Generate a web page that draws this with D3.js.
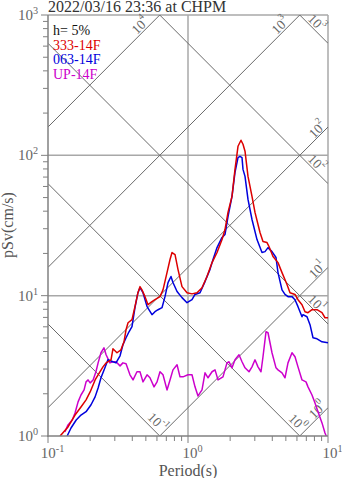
<!DOCTYPE html>
<html><head><meta charset="utf-8">
<script src="https://cdn.jsdelivr.net/npm/d3@7"></script>
<style>body{margin:0;background:#fff}svg{display:block}</style>
</head><body><svg id="c" width="342" height="478"></svg>
<script>
const titleText = "2022/03/16 23:36 at CHPM";
const dampingText = "h= 5%";
const seriesNames = ["333-14F", "063-14F", "UP-14F"];
const seriesColors = ["#dd0000", "#0000dd", "#cc00cc"];
const xLabel = "Period(s)";
const yLabel = "pSv(cm/s)";
const xTickExps = [-1, 0, 1];
const yTickExps = [0, 1, 2, 3];
const saLevels = [1, 10, 100, 1000, 10000];   // gal
const sdLevels = [0.1, 1, 10, 100, 1000];      // cm

const ewT = [0.122,0.139,0.156,0.172,0.187,0.200,0.217,0.228,0.247,0.260,0.282,0.291,0.311,0.332,0.349,0.361,0.373,0.398,0.418,0.439,0.454,0.469,0.493,0.518,0.553,0.581,0.631,0.663,0.708,0.744,0.769,0.808,0.848,0.906,0.984,1.068,1.160,1.259,1.367,1.485,1.612,1.750,1.838,1.931,2.062,2.166,2.276,2.391,2.471,2.554,2.683,2.865,3.010,3.268,3.433,3.667,3.789,4.047,4.394,4.693,5.095,5.353,5.812,6.105,6.521,6.851,7.197,7.686,8.345,9.060,9.518,10.0];
const ewV = [1.00,1.16,1.41,1.61,1.81,2.06,2.51,2.73,3.11,3.32,3.49,4.18,3.92,4.11,4.69,5.72,6.41,6.74,8.35,10.5,11.6,11.0,9.84,8.62,9.06,9.36,9.84,11.0,14.6,18.1,20.3,19.6,15.4,11.6,10.5,10.3,10.5,11.4,13.7,17.2,20.3,25.1,29.6,39.2,51.0,79.4,116,128,120,107,70.8,51.0,39.2,28.2,24.3,23.9,22.4,19.0,17.2,14.6,12.0,10.5,10.2,9.36,8.62,7.69,7.56,7.94,7.94,7.56,6.96,6.96];

const nsT = [0.137,0.146,0.159,0.172,0.187,0.203,0.217,0.228,0.239,0.255,0.268,0.291,0.306,0.327,0.343,0.361,0.379,0.398,0.418,0.439,0.454,0.477,0.510,0.553,0.581,0.611,0.652,0.685,0.720,0.756,0.781,0.835,0.906,0.984,1.068,1.122,1.219,1.323,1.436,1.509,1.612,1.750,1.838,1.931,2.062,2.166,2.276,2.352,2.431,2.471,2.554,2.683,2.865,3.111,3.377,3.548,3.728,3.981,4.252,4.394,4.693,4.930,5.179,5.532,5.812,6.105,6.521,6.629,7.079,7.438,7.814,8.345,9.060,10.0];
const nsV = [1.00,1.14,1.30,1.41,1.49,1.67,1.90,2.20,2.60,3.06,3.49,3.38,3.32,3.73,4.47,5.01,5.53,6.01,8.21,10.5,11.4,10.5,8.35,7.32,7.69,7.94,8.21,9.84,12.4,13.7,12.4,10.7,9.68,8.91,9.36,10.2,10.5,12.6,15.4,18.1,22.0,26.0,27.3,36.6,51.0,75.6,96.4,98.4,96.4,79.4,70.8,48.5,34.9,25.1,20.3,20.6,22.0,20.6,18.7,14.6,11.0,10.2,9.84,9.84,9.36,8.35,7.08,7.32,7.08,6.21,5.01,4.93,4.69,4.62];

const udT = [0.132,0.139,0.149,0.156,0.164,0.172,0.181,0.187,0.193,0.200,0.210,0.220,0.228,0.239,0.251,0.260,0.277,0.291,0.306,0.327,0.343,0.361,0.385,0.405,0.432,0.454,0.477,0.510,0.535,0.572,0.601,0.631,0.663,0.708,0.744,0.781,0.835,0.877,0.921,1.000,1.068,1.122,1.179,1.259,1.323,1.390,1.485,1.560,1.638,1.778,1.899,1.963,2.062,2.166,2.314,2.431,2.554,2.728,2.865,3.010,3.162,3.322,3.433,3.607,3.728,3.981,4.252,4.394,4.693,4.930,5.179,5.532,5.812,6.105,6.521,6.964,7.197,7.686,8.075,8.483,9.060,9.518,9.837];
const udV = [1.07,1.20,1.30,1.46,1.75,1.96,2.13,2.43,2.51,2.39,2.51,2.87,3.32,3.92,4.25,3.79,3.32,3.38,3.38,3.16,3.32,3.27,2.73,2.51,2.87,2.87,2.43,2.73,2.60,2.24,2.43,2.87,2.73,2.13,2.51,2.96,3.22,2.64,2.64,2.73,2.73,2.24,1.93,2.13,2.82,2.60,2.87,2.96,2.51,2.64,3.32,3.38,3.06,3.49,3.79,3.38,3.06,2.87,3.11,3.49,3.11,2.87,3.67,5.53,5.44,3.92,3.06,2.96,2.82,2.60,3.32,3.92,3.67,3.11,2.51,2.43,2.24,1.96,1.72,1.49,1.24,1.05,0.97];

const seriesT = [ewT, nsT, udT];
const seriesV = [ewV, nsV, udV];

const L = 48, R = 328, T = 15, B = 436;
const svg = d3.select("#c");
const x = d3.scaleLog().domain([0.1, 10]).range([L, R]);
const y = d3.scaleLog().domain([1, 1000]).range([B, T]);
const serif = "'Liberation Serif','Times New Roman',serif";

svg.append("defs").append("clipPath").attr("id", "clip")
  .append("rect").attr("x", L).attr("y", T).attr("width", R - L).attr("height", B - T);

// grid lines at decades
const grid = svg.append("g").attr("stroke", "#a8a8a8").attr("stroke-width", 1.5);
[1].forEach(v => grid.append("line").attr("x1", x(v)).attr("x2", x(v)).attr("y1", T).attr("y2", B));
[10, 100].forEach(v => grid.append("line").attr("x1", L).attr("x2", R).attr("y1", y(v)).attr("y2", y(v)));
grid.append("line").attr("x1", L).attr("x2", R).attr("y1", T).attr("y2", T);
grid.append("line").attr("x1", R).attr("x2", R).attr("y1", T).attr("y2", B);

// tripartite diagonal lines
const diag = svg.append("g").attr("clip-path", "url(#clip)").attr("stroke", "#6a6a6a").attr("stroke-width", 1).attr("fill", "none");
const lineGen = d3.line().x(d => x(d[0])).y(d => y(d[1]));
const tEnds = [0.1, 10];
saLevels.forEach(sa => diag.append("path").attr("d", lineGen(tEnds.map(t => [t, sa * t / (2 * Math.PI)]))));
sdLevels.forEach(sd => diag.append("path").attr("d", lineGen(tEnds.map(t => [t, 2 * Math.PI * sd / t]))));

function expLabel(g, px, py, exp, size, anchor, rot) {
  const t = g.append("text").attr("x", px).attr("y", py)
    .attr("font-family", serif).attr("font-size", size).attr("fill", "#666")
    .attr("text-anchor", anchor);
  if (rot !== undefined) t.attr("transform", `rotate(${rot},${px},${py})`).attr("dominant-baseline", "central");
  t.append("tspan").text("10");
  t.append("tspan").attr("font-size", size * 0.68).attr("dy", -size * 0.4).text(String(exp));
  return t;
}

// diagonal labels
const dl = svg.append("g");
saLevels.forEach(sa => {
  const tTop = 1000 * 2 * Math.PI / sa;
  let cx, cy;
  if (tTop < 10) { cx = x(tTop) - 20; cy = T + 10; }
  else { cx = R - 11; cy = y(sa * 10 / (2 * Math.PI)) + 2; }
  expLabel(dl, cx, cy, Math.round(Math.log10(sa)), 13.5, "middle", -45);
});
sdLevels.forEach(sd => {
  const vRight = 2 * Math.PI * sd / 10;
  let cx, cy;
  if (vRight >= 1) { cx = R - 11; cy = y(vRight) - 21; }
  else { const tb = 2 * Math.PI * sd; cx = x(tb) - 2; cy = B - 14; }
  expLabel(dl, cx, cy, Math.round(Math.log10(sd)), 13.5, "middle", 45);
});

// series
const sg = svg.append("g").attr("clip-path", "url(#clip)").attr("fill", "none").attr("stroke-width", 1.5).attr("stroke-linejoin", "round");
[2, 1, 0].forEach(i => {
  const pts = seriesT[i].map((t, j) => [t, seriesV[i][j]]);
  sg.append("path").attr("d", lineGen(pts)).attr("stroke", seriesColors[i]);
});

// axes
const ax = svg.append("g").attr("stroke", "#808080").attr("stroke-width", 1.5);
ax.append("line").attr("x1", L).attr("x2", L).attr("y1", T).attr("y2", B + 0.75);
ax.append("line").attr("x1", L - 0.75).attr("x2", R).attr("y1", B).attr("y2", B);
const mult = [2, 3, 4, 5, 6, 7, 8, 9];
const tk = svg.append("g").attr("stroke", "#808080").attr("stroke-width", 1);
[-1, 0].forEach(e => mult.forEach(m => {
  const v = m * Math.pow(10, e);
  tk.append("line").attr("x1", x(v)).attr("x2", x(v)).attr("y1", B).attr("y2", B + 5);
}));
xTickExps.forEach(e => tk.append("line").attr("x1", x(Math.pow(10, e))).attr("x2", x(Math.pow(10, e))).attr("y1", B).attr("y2", B + 7));
[0, 1, 2].forEach(e => mult.forEach(m => {
  const v = m * Math.pow(10, e);
  tk.append("line").attr("x1", L - 5).attr("x2", L).attr("y1", y(v)).attr("y2", y(v));
}));
yTickExps.forEach(e => tk.append("line").attr("x1", L - 7).attr("x2", L).attr("y1", y(Math.pow(10, e))).attr("y2", y(Math.pow(10, e))));

// tick labels
const tl = svg.append("g");
xTickExps.forEach(e => expLabel(tl, x(Math.pow(10, e)) + 4.5, 458, e, 15, "middle"));
yTickExps.forEach(e => expLabel(tl, 38, y(Math.pow(10, e)) + 5, e, 15, "end"));

// axis titles
svg.append("text").attr("x", (L + R) / 2).attr("y", 475.5).attr("text-anchor", "middle")
  .attr("font-family", serif).attr("font-size", 16).attr("fill", "#555").text(xLabel);
svg.append("text").attr("transform", "translate(13,225) rotate(-90)").attr("text-anchor", "middle")
  .attr("font-family", serif).attr("font-size", 16).attr("fill", "#555").text(yLabel);

// title
svg.append("text").attr("x", L).attr("y", 11.5).attr("font-family", serif).attr("font-size", 16)
  .attr("fill", "#333").text(titleText);

// legend
const lg = svg.append("g").attr("font-family", serif).attr("font-size", 14);
lg.append("text").attr("x", 53).attr("y", 35).attr("fill", "#111").text(dampingText);
seriesNames.forEach((n, i) => lg.append("text").attr("x", 53).attr("y", 49.5 + i * 14.5).attr("fill", seriesColors[i]).text(n));
</script></body></html>
